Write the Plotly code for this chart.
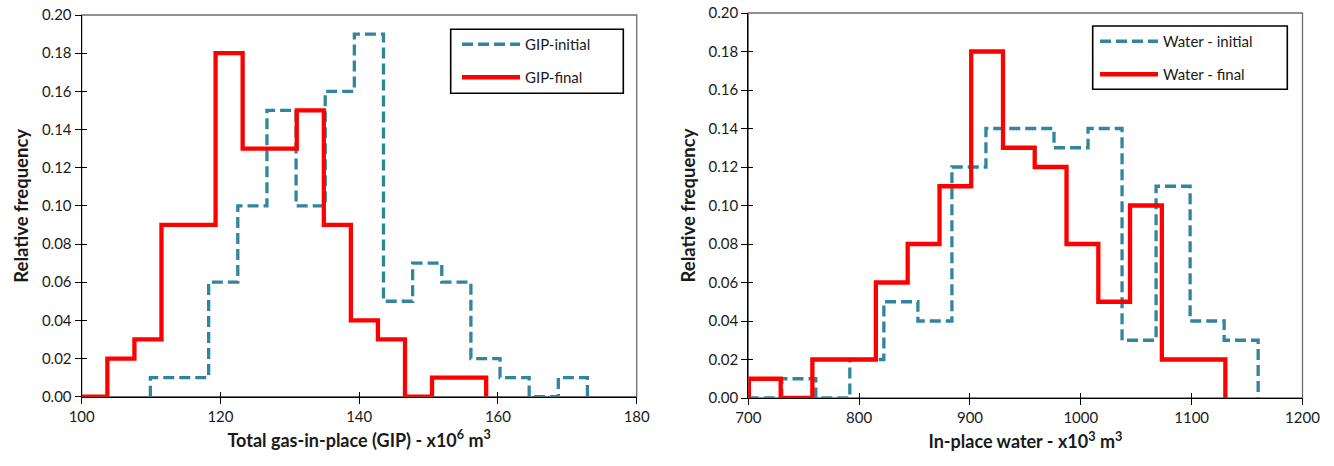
import plotly.graph_objects as go

# ---------------- Data ----------------
# Left panel: total gas-in-place (x10^6 m3)
gip_initial_edges = [109.9, 114.1, 118.3, 122.5, 126.7, 130.9, 135.1, 139.3,
                     143.5, 147.7, 151.9, 156.1, 160.3, 164.5, 168.7, 172.9]
gip_initial_freq = [0.01, 0.01, 0.06, 0.10, 0.15, 0.10, 0.16, 0.19,
                    0.05, 0.07, 0.06, 0.02, 0.01, 0.00, 0.01]
gip_final_edges = [99.8, 103.7, 107.6, 111.5, 115.4, 119.3, 123.2, 127.1,
                   131.0, 134.9, 138.8, 142.7, 146.6, 150.5, 154.4, 158.3]
gip_final_freq = [0.00, 0.02, 0.03, 0.09, 0.09, 0.18, 0.13, 0.13,
                  0.15, 0.09, 0.04, 0.03, 0.00, 0.01, 0.01]

# Right panel: in-place water (x10^3 m3)
water_initial_edges = [699.5, 730.2, 760.9, 791.6, 822.3, 853.0, 883.7, 914.4,
                       945.1, 975.8, 1006.5, 1037.2, 1067.9, 1098.6, 1129.3, 1160.0]
water_initial_freq = [0.00, 0.01, 0.00, 0.02, 0.05, 0.04, 0.12, 0.14,
                      0.14, 0.13, 0.14, 0.03, 0.11, 0.04, 0.03]
water_final_edges = [700.5, 729.2, 757.8, 786.5, 815.1, 843.8, 872.5, 901.1,
                     929.8, 958.4, 987.1, 1015.8, 1044.4, 1073.1, 1101.7, 1130.4]
water_final_freq = [0.01, 0.00, 0.02, 0.02, 0.06, 0.08, 0.11, 0.18,
                    0.13, 0.12, 0.08, 0.05, 0.10, 0.02, 0.02]

left_xrange = [100, 180]
right_xrange = [700, 1200]
y_range = [0, 0.20]

# ---------------- Styling ----------------
W, H = 1334, 466
FONT = "Lato"
BLUE = "#31859C"
RED = "#FF0000"
TXT = "#1a1a1a"


def step_xy(edges, freq):
    xs = [edges[0]] + list(edges)
    ys = [0] + list(freq) + [0]
    return xs, ys


fig = go.Figure()

series = [
    ("GIP-initial", gip_initial_edges, gip_initial_freq, "x", "y", "legend", BLUE, "dash"),
    ("GIP-final", gip_final_edges, gip_final_freq, "x", "y", "legend", RED, "solid"),
    ("Water - initial", water_initial_edges, water_initial_freq, "x2", "y2", "legend2", BLUE, "dash"),
    ("Water - final", water_final_edges, water_final_freq, "x2", "y2", "legend2", RED, "solid"),
]
for name, edges, freq, xa, ya, leg, col, dash in series:
    xs, ys = step_xy(edges, freq)
    fig.add_trace(go.Scatter(
        x=xs, y=ys, mode="lines", name=name, xaxis=xa, yaxis=ya,
        line=dict(color=col, width=4.3 if dash == "solid" else 3.3,
                  dash="11px,5px" if dash == "dash" else "solid", shape="hv"),
        legend=leg, legendgroup=name,
    ))

# invisible traces for overlay axes (inner half of crossing ticks)
for xa, ya in (("x3", "y3"), ("x4", "y4")):
    fig.add_trace(go.Scatter(x=[None], y=[None], xaxis=xa, yaxis=ya,
                             showlegend=False, hoverinfo="skip"))

# pixel-based domains
lx = [81.7 / W, 636.7 / W]
rx = [748.3 / W, 1302.5 / W]
ly = [(H - 396.7) / H, (H - 15) / H]
ry = [(H - 398) / H, (H - 13) / H]

tickfont = dict(family=FONT, size=15, color=TXT)
xtitlefont = dict(family=FONT, size=18, color=TXT)
ytitlefont = dict(family=FONT, size=18.5, color=TXT)


def xaxis(domain, rng, dtick, title, anchor):
    return dict(domain=domain, range=rng, dtick=dtick, tick0=rng[0], anchor=anchor,
                showgrid=False, zeroline=False, showline=True, linecolor="#000",
                linewidth=1.3, ticks="outside", ticklen=6, tickcolor="#000",
                tickwidth=1.3, tickfont=tickfont,
                title=dict(text=title, font=xtitlefont, standoff=10), automargin=False)


def yaxis(domain, anchor):
    return dict(domain=domain, range=y_range, dtick=0.02, tick0=0, tickformat=".2f",
                anchor=anchor, showgrid=False, zeroline=False, showline=True,
                linecolor="#000", linewidth=1.3, ticks="outside", ticklen=6,
                tickcolor="#000", tickwidth=1.3, tickfont=tickfont,
                title=dict(text="<b>Relative frequency</b>", font=ytitlefont, standoff=8),
                automargin=False)


def overlay(over, anchor, rng, dtick, tick0):
    return dict(overlaying=over, anchor=anchor, range=rng, dtick=dtick, tick0=tick0,
                ticks="inside", ticklen=5, tickwidth=1.3, tickcolor="#000",
                showticklabels=False, showgrid=False, zeroline=False, showline=False)


legend_common = dict(bgcolor="rgba(0,0,0,0)", borderwidth=0,
                     font=dict(family=FONT, size=15, color=TXT), tracegroupgap=10.5,
                     itemwidth=58)

# legend frames (pixel boxes around the legends)
legend_boxes = [(450.7, 623.3, 29.3, 93.3), (1092.7, 1287.3, 26, 89.3)]
frame_shapes = [
    dict(type="rect", xref="paper", yref="paper",
         x0=x0 / W, x1=x1 / W, y0=1 - y1 / H, y1=1 - y0 / H,
         line=dict(color="#000", width=1.6), fillcolor="white", layer="above")
    for x0, x1, y0, y1 in legend_boxes
]

fig.update_layout(
    width=W, height=H, autosize=False,
    margin=dict(l=0, r=0, t=0, b=0),
    paper_bgcolor="white", plot_bgcolor="white",
    xaxis=xaxis(lx, left_xrange, 20, "<b>Total gas-in-place (GIP) - x10<sup>6</sup> m<sup>3</sup></b>", "y"),
    yaxis=yaxis(ly, "x"),
    xaxis2=xaxis(rx, right_xrange, 100, "<b>In-place water - x10<sup>3</sup> m<sup>3</sup></b>", "y2"),
    yaxis2=yaxis(ry, "x2"),
    xaxis3=overlay("x", "y3", left_xrange, 20, 100),
    yaxis3=overlay("y", "x3", y_range, 0.02, 0),
    xaxis4=overlay("x2", "y4", right_xrange, 100, 700),
    yaxis4=overlay("y2", "x4", y_range, 0.02, 0),
    legend=dict(x=457 / W, xanchor="left", y=1 - 28 / H, yanchor="top", **legend_common),
    legend2=dict(x=1095 / W, xanchor="left", y=1 - 25 / H, yanchor="top", **legend_common),
    shapes=[
        dict(type="rect", xref="x domain", yref="y domain", x0=0, x1=1, y0=0, y1=1,
             line=dict(color="#6e6e6e", width=1.3), layer="below"),
        dict(type="rect", xref="x2 domain", yref="y2 domain", x0=0, x1=1, y0=0, y1=1,
             line=dict(color="#6e6e6e", width=1.3), layer="below"),
    ] + frame_shapes,
)

fig.write_html("out.html", config={"displayModeBar": False},
               post_script="document.body.style.margin='0';document.body.style.overflow='hidden';")
